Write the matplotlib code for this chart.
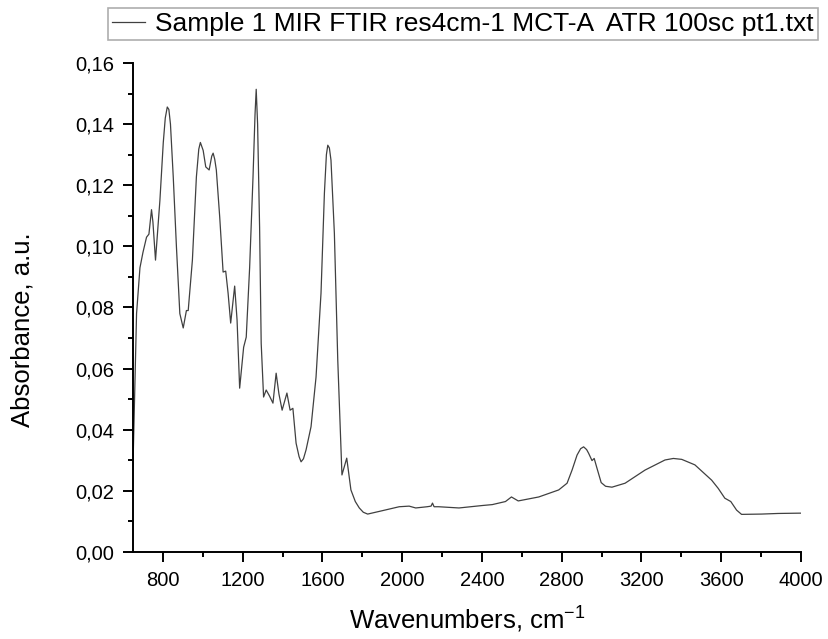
"""FTIR ATR spectrum of Sample 1 (absorbance vs wavenumber)."""

import matplotlib
matplotlib.use("Agg")
import matplotlib.pyplot as plt
from matplotlib.ticker import MultipleLocator, FuncFormatter

plt.rcParams["font.family"] = ["Liberation Sans", "DejaVu Sans"]
plt.rcParams["mathtext.fontset"] = "custom"
plt.rcParams["mathtext.rm"] = "Liberation Sans"

LABEL = "Sample 1 MIR FTIR res4cm-1 MCT-A  ATR 100sc pt1.txt"

# wavenumber (cm-1) and absorbance
WAVENUMBER = [650, 668, 685, 700, 718, 730, 743, 750, 763, 785, 802, 812, 822,
              830, 838, 852, 868, 885, 902, 918, 927, 948, 968, 980, 988,
              1002, 1015, 1032, 1045, 1052, 1060, 1068, 1085, 1102, 1115,
              1127, 1140, 1160, 1172, 1185, 1205, 1218, 1235, 1252, 1262,
              1268, 1275, 1285, 1293, 1305, 1318, 1335, 1352, 1368, 1382,
              1398, 1422, 1438, 1452, 1468, 1483, 1493, 1505, 1518, 1543,
              1568, 1593, 1610, 1620, 1627, 1635, 1643, 1660, 1677, 1698,
              1722, 1743, 1765, 1785, 1805, 1827, 1900, 1985, 2035, 2068,
              2125, 2145, 2152, 2160, 2183, 2285, 2402, 2452, 2518, 2548,
              2582, 2685, 2785, 2827, 2852, 2877, 2895, 2910, 2925, 2935,
              2952, 2963, 2977, 2998, 3020, 3052, 3118, 3218, 3318, 3360,
              3402, 3468, 3552, 3585, 3618, 3648, 3677, 3702, 3802, 3885,
              3993, 4000]
ABSORBANCE = [0.028, 0.078, 0.093, 0.098, 0.103, 0.104, 0.112, 0.108, 0.0955,
              0.115, 0.134, 0.142, 0.1456, 0.1448, 0.140, 0.1227, 0.0998,
              0.078, 0.0733, 0.079, 0.079, 0.0955, 0.1227, 0.1318, 0.134,
              0.1314, 0.126, 0.125, 0.1295, 0.1305, 0.1285, 0.125, 0.1096,
              0.0916, 0.0919, 0.0847, 0.0749, 0.087, 0.0759, 0.0536, 0.067,
              0.0703, 0.093, 0.1227, 0.143, 0.1514, 0.140, 0.1063, 0.0683,
              0.0507, 0.053, 0.051, 0.0487, 0.0585, 0.0517, 0.0464, 0.052,
              0.0464, 0.047, 0.0356, 0.0312, 0.0295, 0.0305, 0.0334, 0.041,
              0.0572, 0.0847, 0.1174, 0.1300, 0.1331, 0.1322, 0.1282, 0.1043,
              0.0628, 0.0252, 0.0307, 0.0203, 0.0165, 0.0144, 0.0130, 0.0124,
              0.0135, 0.0148, 0.015, 0.0144, 0.0148, 0.015, 0.016, 0.0148,
              0.0148, 0.0144, 0.0152, 0.0155, 0.0165, 0.018, 0.0167, 0.018,
              0.0203, 0.0225, 0.0268, 0.0317, 0.0338, 0.0344, 0.0335, 0.0323,
              0.0299, 0.0306, 0.0274, 0.0227, 0.0215, 0.0212, 0.0225, 0.0268,
              0.0301, 0.0306, 0.0303, 0.0285, 0.0235, 0.0208, 0.0176, 0.0165,
              0.0137, 0.0123, 0.0124, 0.0126, 0.0127, 0.0127]

fig = plt.figure(figsize=(8.29, 6.39), dpi=100)
ax = fig.add_axes([0.1604, 0.1362, 0.8058, 0.7652])

ax.plot(WAVENUMBER, ABSORBANCE, color="#404040", linewidth=0.9, label=LABEL)

ax.set_xlim(650, 4000)
ax.set_ylim(0, 0.16)
ax.xaxis.set_major_locator(MultipleLocator(400))
ax.xaxis.set_minor_locator(MultipleLocator(200))
ax.yaxis.set_major_locator(MultipleLocator(0.02))
ax.yaxis.set_minor_locator(MultipleLocator(0.01))
ax.yaxis.set_major_formatter(FuncFormatter(lambda v, p: f"{v:.2f}".replace(".", ",")))

for s in ("top", "right"):
    ax.spines[s].set_visible(False)
for s in ("left", "bottom"):
    ax.spines[s].set_linewidth(1.4)
ax.tick_params(which="major", direction="out", length=7.2, width=1.4,
               labelsize=14.5, pad=6.5)
ax.tick_params(which="minor", direction="out", length=3.6, width=1.4)

ax.set_xlabel("Wavenumbers, cm$^{-1}$", fontsize=18.5)
ax.set_ylabel("Absorbance, a.u.", fontsize=18.5)
ax.xaxis.set_label_coords(0.5, -0.105)
ax.yaxis.set_label_coords(-0.147, 0.454)

leg = ax.legend(loc="upper right", bbox_to_anchor=(818 / 829, 1 - 8 / 639),
                bbox_transform=fig.transFigure, fontsize=19, fancybox=False,
                handlelength=1.25, handletextpad=0.4, borderpad=0.15,
                borderaxespad=0)
leg.get_frame().set_edgecolor("#999999")
leg.get_frame().set_linewidth(1.2)

fig.savefig("out.png", dpi=100, facecolor="white")
